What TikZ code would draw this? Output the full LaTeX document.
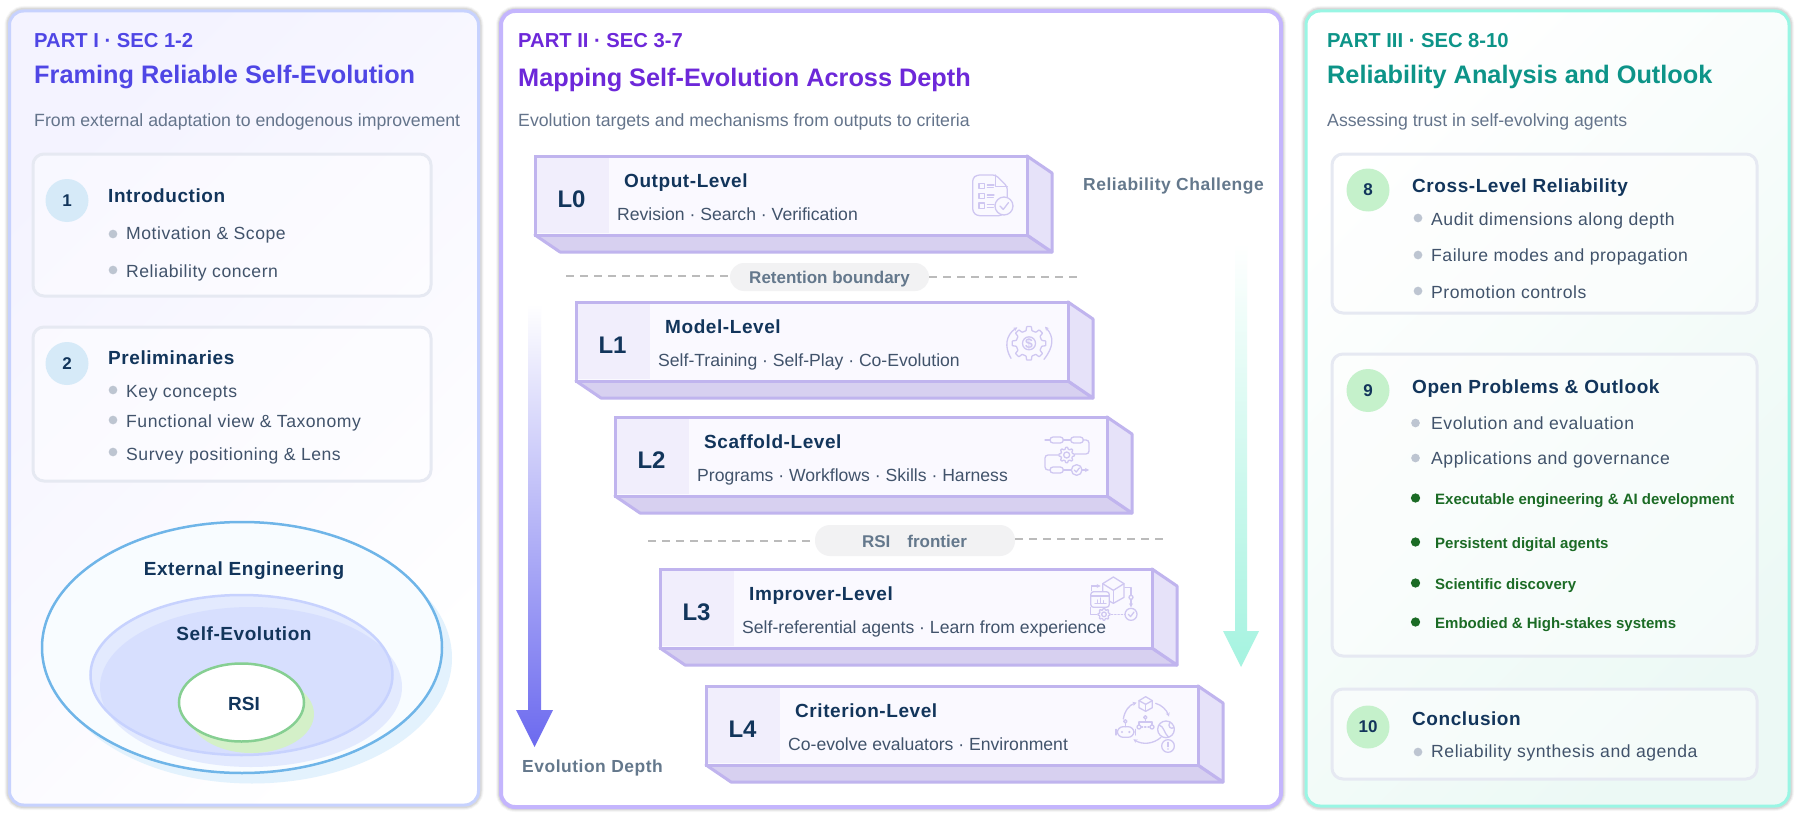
\documentclass[tikz,border=0pt]{standalone}
\usepackage{fontspec}
\setmainfont{Liberation Sans}
\newfontfamily\lsa[LetterSpace=3]{Liberation Sans}
\usetikzlibrary{calc,arrows.meta,shapes.geometric}
\definecolor{pI}{HTML}{4F46E5}\definecolor{pII}{HTML}{6D28D9}\definecolor{pIII}{HTML}{0D9488}
\definecolor{subc}{HTML}{64748B}\definecolor{navy}{HTML}{12355B}\definecolor{bodyc}{HTML}{41536B}
\definecolor{bI}{HTML}{C7D2FE}\definecolor{bII}{HTML}{C4B5FD}\definecolor{bIII}{HTML}{99F6E4}
\definecolor{cardb}{HTML}{E6E9F2}\definecolor{dotc}{HTML}{BDC5D1}\definecolor{gdot}{HTML}{1B6B25}
\definecolor{cblue}{HTML}{D6EAF8}\definecolor{cgreen}{HTML}{C5F1CB}
\definecolor{boxb}{HTML}{C0B4EE}\definecolor{boxf}{HTML}{FAF9FF}\definecolor{boxt}{HTML}{F1EEFC}
\definecolor{boxr}{HTML}{E6E2F9}\definecolor{boxd}{HTML}{D7D0F0}\definecolor{icon}{HTML}{CFC7F1}
\definecolor{gr}{HTML}{64788C}\definecolor{dash}{HTML}{BBBBBB}\definecolor{pill}{HTML}{F2F2F3}
\definecolor{F4F3FFc}{HTML}{F4F3FF}\definecolor{E3F2FDc}{HTML}{E3F2FD}\definecolor{6FB5E8c}{HTML}{6FB5E8}
\definecolor{F8FCFFc}{HTML}{F8FCFF}\definecolor{D4F0C8c}{HTML}{D4F0C8}\definecolor{86CF92c}{HTML}{86CF92}
\definecolor{6C6AEFc}{HTML}{6C6AEF}\definecolor{A5F3E0c}{HTML}{A5F3E0}\definecolor{ECF9F5c}{HTML}{ECF9F5}
\definecolor{midI}{HTML}{FBFAFF}\definecolor{midIII}{HTML}{FAFDFD}
\newcommand{\fz}[1]{\fontsize{#1}{#1}\selectfont}
\newcommand{\txt}[5]{\node[anchor=base west,inner sep=0pt,#4] (#1) at (#2,#3) {#5};}
\newcommand{\ctxt}[5]{\node[anchor=base,inner sep=0pt,#4] (#1) at (#2,#3) {#5};}
\newcommand{\bl}[3]{\node[bulletdot] (#1) at (#2,#3) {};}
\newcommand{\gl}[3]{\node[greendot] (#1) at (#2,#3) {};}
\newcommand{\panelshadow}[5]{%
  \foreach \w/\o in {10/.03,8/.05,6/.07}{\draw[black,opacity=\o,line width=\w pt,rounded corners=14pt] (#1,#2) rectangle (#3,#4);}}
\newcommand{\icongear}[3]{%
  \begin{scope}[shift={(#1,#2)}]
  \draw[iconline,rounded corners=.5pt] (-13:#3) \foreach \a in {0,45,...,315}{ -- (\a-13:#3) -- (\a-8:#3*1.3) -- (\a+8:#3*1.3) -- (\a+13:#3)} -- cycle;
  \draw[iconline] (0,0) circle[radius=#3*0.5];
  \end{scope}}
\newcommand{\checkc}[3]{%
  \draw[iconline,fill=boxf] (#1,#2) circle[radius=#3];
  \draw[iconline] ($(#1,#2)+(-.45*#3,0)$) -- ($(#1,#2)+(-.08*#3,.38*#3)$) -- ($(#1,#2)+(.5*#3,-.38*#3)$);}
\newcommand{\levelbox}[6]{%
  \begin{scope}[shift={(#2,#3)}]
  \draw[boxline,fill=boxd] (0,79) -- (492,79) -- (517,96) -- (25,96) -- cycle;
  \draw[boxline,fill=boxr] (492,0) -- (517,17) -- (517,96) -- (492,79) -- cycle;
  \node[boxfront] (#1) at (0,0) {};
  \fill[boxt] (2,2) rectangle (74,77);
  \ctxt{#1tag}{36.5}{51}{text=navy,font=\fz{24}\bfseries}{#4}
  \txt{#1title}{89}{31.5}{text=navy,font=\lsa\fz{19}\bfseries}{#5}
  \txt{#1sub}{82}{64.5}{text=bodyc,font=\fz{17.6}}{#6}
  \end{scope}}
\tikzset{
  bulletdot/.style={circle,fill=dotc,inner sep=0pt,minimum size=8.7pt},
  greendot/.style={circle,fill=gdot,inner sep=0pt,minimum size=9.3pt},
  numdisc/.style={circle,inner sep=0pt,minimum size=43pt,text=navy,font=\fz{17}\bfseries},
  cardbox/.style={draw=cardb,line width=3pt,fill=white,fill opacity=.45,rounded corners=11pt},
  boxline/.style={draw=boxb,line width=3pt,line join=round},
  boxfront/.style={anchor=north west,draw=boxb,line width=3pt,fill=boxf,minimum width=492pt,minimum height=79pt,inner sep=0pt,outer sep=0pt},
  iconline/.style={draw=icon,line width=1.3pt,line cap=round,line join=round},
  icontip/.style={iconline,-{Stealth[length=4pt,width=4pt]}},
  dashline/.style={draw=dash,line width=2pt,dash pattern=on 8pt off 6pt},
  pillbox/.style={fill=pill,rounded corners=14pt},
  head/.style={font=\fz{20.2}\bfseries},
  bigt/.style={font=\fz{25.3}\bfseries},
  subt/.style={text=subc,font=\fz{17.7}},
  ctitle/.style={text=navy,font=\lsa\fz{19}\bfseries},
  body/.style={text=bodyc,font=\lsa\fz{17.6}},
  gbody/.style={text=gdot,font=\fz{15}\bfseries},
  grlabel/.style={text=gr,font=\lsa\fz{17.45}\bfseries},
}
\begin{document}
\begin{tikzpicture}[x=1pt,y=-1pt]
\useasboundingbox (0,0) rectangle (1800,816);
\fill[white] (0,0) rectangle (1800,816);
%% PANEL I
\panelshadow{9.5}{11}{478.5}{805}{}
\shade[top color=F4F3FFc,middle color=midI,bottom color=white,shading angle=45,rounded corners=14pt] (9.5,11) rectangle (478.5,805);
\draw[bI,line width=3pt,rounded corners=14pt] (9.5,11) rectangle (478.5,805);
\txt{p1a}{34}{48}{text=pI,head}{PART I · SEC 1-2}
\txt{p1b}{34}{84}{text=pI,bigt}{Framing Reliable Self-Evolution}
\txt{p1c}{34}{126}{subt}{From external adaptation to endogenous improvement}
\draw[cardbox] (33,154) rectangle (431,296);
\node[numdisc,fill=cblue] (n1) at (67,200.5) {1};
\txt{t1}{108}{202}{ctitle}{Introduction}
\bl{b11}{113}{234}\txt{x11}{126}{239}{body}{Motivation \& Scope}
\bl{b12}{113}{270}\txt{x12}{126}{277}{body}{Reliability concern}
\draw[cardbox] (33,327) rectangle (431,481);
\node[numdisc,fill=cblue] (n2) at (67,363.5) {2};
\txt{t2}{108}{364}{ctitle}{Preliminaries}
\bl{b21}{113}{390}\txt{x21}{126}{397}{body}{Key concepts}
\bl{b22}{113}{420}\txt{x22}{126}{427}{body}{Functional view \& Taxonomy}
\bl{b23}{113}{452}\txt{x23}{126}{460}{body}{Survey positioning \& Lens}
%% Ellipses
\fill[E3F2FDc] (252,658) ellipse[x radius=200,y radius=125.5];
\draw[6FB5E8c,line width=2.5pt,fill=F8FCFFc] (242,647.5) ellipse[x radius=200,y radius=125.5];
\fill[bI,opacity=.42] (251,687) ellipse[x radius=151,y radius=80];
\fill[bI,opacity=.42] (241.5,675) ellipse[x radius=151,y radius=80];
\draw[bI,line width=2.5pt] (241.5,675) ellipse[x radius=151,y radius=80];
\fill[D4F0C8c] (251.5,714) ellipse[x radius=62.5,y radius=39];
\draw[86CF92c,line width=2.5pt,fill=white] (241.5,702.5) ellipse[x radius=62.5,y radius=39];
\ctxt{e1}{244}{575}{text=navy,font=\lsa\fz{19}\bfseries}{External Engineering}
\ctxt{e2}{244}{640}{text=navy,font=\lsa\fz{19}\bfseries}{Self-Evolution}
\ctxt{e3}{244}{710}{text=navy,font=\fz{19}\bfseries}{RSI}
%% PANEL II
\panelshadow{501}{11}{1281}{807}{}
\fill[white,rounded corners=14pt] (501,11) rectangle (1281,807);
\draw[bII,line width=4pt,rounded corners=14pt] (501,11) rectangle (1281,807);
\txt{p2a}{518}{48}{text=pII,head}{PART II · SEC 3-7}
\txt{p2b}{518}{86}{text=pII,bigt}{Mapping Self-Evolution Across Depth}
\txt{p2c}{518}{126}{subt}{Evolution targets and mechanisms from outputs to criteria}
\txt{rc}{1083}{190}{grlabel}{Reliability Challenge}
\txt{ed}{522}{772}{grlabel}{Evolution Depth}
% arrows
\shade[top color=white,bottom color=6C6AEFc] (528,304) -- (541,304) -- (541,710) -- (553,710) -- (534.5,747) -- (516,710) -- (528,710) -- cycle;
\shade[top color=white,bottom color=A5F3E0c] (1235,243) -- (1247,243) -- (1247,631) -- (1259,631) -- (1241,667) -- (1223,631) -- (1235,631) -- cycle;
% separators
\node[pillbox,minimum width=199pt,minimum height=28pt,inner sep=0pt] (pill1) at (829.5,277) {};
\coordinate (d1a) at (566,276);\coordinate (d1b) at (1081,276.5);
\draw[dashline] (d1a) -- (pill1.west |- d1a);\draw[dashline] (pill1.east |- d1b) -- (d1b);
\ctxt{pt1}{829.5}{283}{grlabel,font=\fz{17}\bfseries}{Retention boundary}
\node[pillbox,minimum width=200pt,minimum height=31pt,inner sep=0pt,rounded corners=15pt] (pill2) at (915,540.5) {};
\coordinate (d2a) at (648,541);\coordinate (d2b) at (1164,539);
\draw[dashline] (d2a) -- (pill2.west |- d2a);\draw[dashline] (pill2.east |- d2b) -- (d2b);
\ctxt{pt2}{914.5}{547}{grlabel,font=\fz{17}\bfseries}{RSI\hspace{1em}frontier}
% level boxes
\levelbox{L0}{535}{156}{L0}{Output-Level}{Revision · Search · Verification}
\levelbox{L1}{576}{302}{L1}{Model-Level}{Self-Training · Self-Play · Co-Evolution}
\levelbox{L2}{615}{417}{L2}{Scaffold-Level}{Programs · Workflows · Skills · Harness}
\levelbox{L3}{660}{569}{L3}{Improver-Level}{Self-referential agents · Learn from experience}
\levelbox{L4}{706}{686}{L4}{Criterion-Level}{Co-evolve evaluators · Environment}
% icons L0..L2 in crop coordinates
\begin{scope}[shift={(930,130)},x=.33333pt,y=-.33333pt]
 % L0
 \draw[iconline,rounded corners=3pt] (197,135) -- (140,135) -- (128,145) -- (128,245) -- (140,257) -- (215,257) -- (232,240) -- (232,170) -- cycle;
 \draw[iconline] (197,135) -- (197,170) -- (232,170);
 \foreach \yy in {160,190,219}{\draw[iconline] (147,\yy) rectangle (163,\yy+16);\draw[iconline] (172,\yy+5) -- (192,\yy+5);\draw[iconline] (172,\yy+13) -- (190,\yy+13);}
 \checkc{222}{228}{27}
 % L1
 \icongear{297}{640}{39}
 \node[text=icon,font=\fz{14}\bfseries,inner sep=0pt] (icondollar) at (297,640) {\$};
 \draw[icontip] (243,685) .. controls (222,650) and (228,615) .. (262,592);
 \draw[icontip] (342,688) .. controls (372,650) and (372,620) .. (345,590);
 % L2
 \draw[iconline] (345,930) -- (360,930);\draw[iconline,rounded corners=3pt] (360,921) rectangle (400,939);
 \draw[iconline] (400,930) -- (422,930);\draw[iconline,rounded corners=3pt] (422,921) rectangle (460,939);
 \draw[iconline,rounded corners=3pt] (460,930) -- (477,930) -- (477,972) -- (436,972);
 \icongear{410}{975}{18}
 \draw[iconline,rounded corners=3pt] (385,975) -- (345,975) -- (345,1020) -- (360,1020);
 \draw[iconline,rounded corners=3pt] (360,1011) rectangle (400,1029);
 \draw[iconline] (400,1020) -- (424,1020);
 \checkc{440}{1020}{16}
 \draw[icontip] (456,1020) -- (477,1020);
\end{scope}
\begin{scope}[shift={(980,520)},x=.33333pt,y=-.33333pt]
 % L3
 \draw[iconline] (400,171) -- (432,191) -- (432,232) -- (400,250) -- (368,232) -- (368,191) -- cycle;
 \draw[iconline] (368,191) -- (400,211) -- (432,191);\draw[iconline] (400,211) -- (400,250);
 \draw[iconline,fill=boxf,rounded corners=3pt] (332,215) rectangle (388,262);
 \draw[iconline] (332,228) -- (388,228);
 \draw[iconline] (345,250) -- (378,250);\draw[iconline] (352,250) -- (352,240);\draw[iconline] (361,250) -- (361,234);\draw[iconline] (370,250) -- (370,242);
 \draw[icontip] (335,212) -- (335,198) -- (362,198);
 \draw[iconline] (435,203) -- (453,203) -- (453,225);
 \draw[iconline] (453,232) circle[radius=6];
 \draw[icontip] (453,238) -- (453,262);
 \icongear{372}{283}{14}
 \draw[iconline,dotted] (394,283) -- (434,283);
 \checkc{453}{283}{18}
 \draw[iconline] (332,262) -- (332,283) -- (350,283);
 % L4
 \draw[iconline] (497,530) -- (517,542) -- (517,563) -- (497,574) -- (477,563) -- (477,542) -- cycle;
 \draw[iconline] (477,542) -- (497,553) -- (517,542);\draw[iconline] (497,553) -- (497,574);
 \draw[icontip] (430,597) .. controls (434,572) and (448,555) .. (470,548);
 \draw[icontip] (527,550) .. controls (545,555) and (560,570) .. (567,590);
 \draw[icontip] (543,652) .. controls (520,672) and (488,675) .. (460,658);
 \draw[iconline,rounded corners=6pt] (412,620) rectangle (462,652);
 \draw[iconline] (408,628) -- (408,645);\draw[iconline] (466,628) -- (466,645);
 \draw[iconline] (436,620) -- (436,609);\draw[iconline] (436,604) circle[radius=5];
 \fill[icon] (426,636) circle[radius=3.5];\fill[icon] (448,636) circle[radius=3.5];
 \draw[iconline] (496,592) circle[radius=5];\draw[iconline] (496,597) -- (496,606);
 \draw[iconline] (477,606) -- (516,606);\draw[iconline] (477,606) -- (477,615);\draw[iconline] (516,606) -- (516,615);
 \draw[iconline] (477,621) circle[radius=6];\draw[iconline] (516,621) circle[radius=6];
 \draw[iconline,dotted] (484,621) -- (509,621);
 \draw[iconline] (558,628) circle[radius=25];
 \draw[iconline] (537,615) .. controls (552,618) and (552,640) .. (566,652);
 \draw[iconline] (570,606) .. controls (560,620) and (575,630) .. (582,622);
 \draw[iconline] (564,678) circle[radius=19];
 \draw[iconline] (564,667) -- (564,680);\fill[icon] (564,687) circle[radius=2.5];
\end{scope}
%% PANEL III
\panelshadow{1306}{11}{1789}{806}{}
\shade[top color=white,middle color=midIII,bottom color=ECF9F5c,shading angle=45,rounded corners=14pt] (1306,11) rectangle (1789,806);
\draw[bIII,line width=3pt,rounded corners=14pt] (1306,11) rectangle (1789,806);
\txt{p3a}{1327}{48}{text=pIII,head}{PART III · SEC 8-10}
\txt{p3b}{1327}{84}{text=pIII,bigt}{Reliability Analysis and Outlook}
\txt{p3c}{1327}{126}{subt}{Assessing trust in self-evolving agents}
\draw[cardbox] (1332,154) rectangle (1757,313);
\node[numdisc,fill=cgreen] (n8) at (1368,190) {8};
\txt{t8}{1412}{192}{ctitle}{Cross-Level Reliability}
\bl{b81}{1418}{218}\txt{x81}{1431}{225}{body}{Audit dimensions along depth}
\bl{b82}{1418}{255}\txt{x82}{1431}{261}{body}{Failure modes and propagation}
\bl{b83}{1418}{291}\txt{x83}{1431}{298}{body}{Promotion controls}
\draw[cardbox] (1332,354) rectangle (1757,656);
\node[numdisc,fill=cgreen] (n9) at (1368,390.5) {9};
\txt{t9}{1412}{393}{ctitle}{Open Problems \& Outlook}
\bl{b91}{1415.5}{423}\txt{x91}{1431}{429}{body}{Evolution and evaluation}
\bl{b92}{1415.5}{458}\txt{x92}{1431}{464}{body}{Applications and governance}
\gl{g1}{1415.5}{498}\txt{y1}{1435}{504}{gbody}{Executable engineering \& AI development}
\gl{g2}{1415.5}{542}\txt{y2}{1435}{548}{gbody}{Persistent digital agents}
\gl{g3}{1415.5}{583}\txt{y3}{1435}{589}{gbody}{Scientific discovery}
\gl{g4}{1415.5}{622}\txt{y4}{1435}{628}{gbody}{Embodied \& High-stakes systems}
\draw[cardbox] (1332,689) rectangle (1757,779);
\node[numdisc,fill=cgreen] (n10) at (1368,727) {10};
\txt{t10}{1412}{725}{ctitle}{Conclusion}
\bl{b101}{1418}{752}\txt{x101}{1431}{757}{body}{Reliability synthesis and agenda}
\end{tikzpicture}
\end{document}
